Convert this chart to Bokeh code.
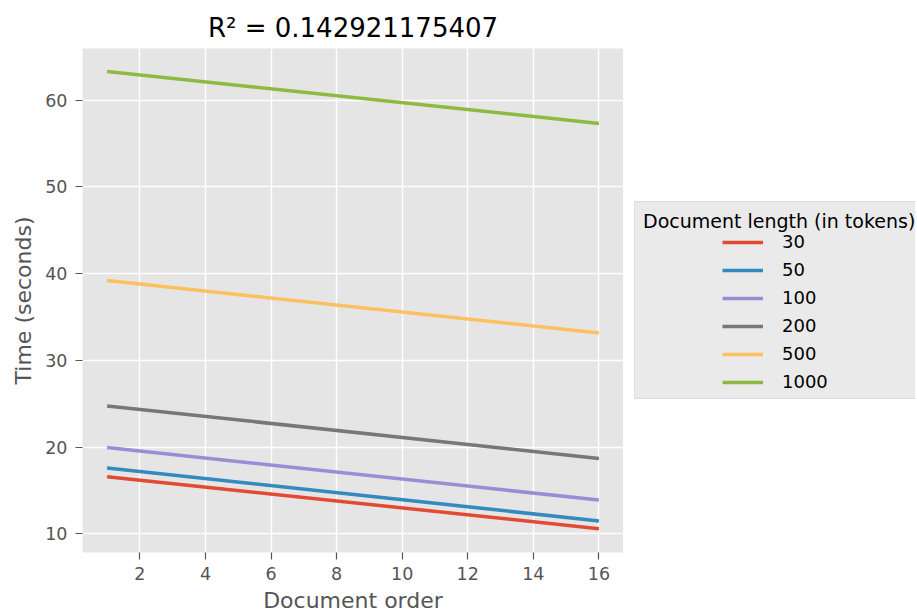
from bokeh.plotting import figure
from bokeh.layouts import row
from bokeh.models import Legend, LegendItem, FixedTicker, Range1d
from bokeh.embed import file_html
from bokeh.resources import INLINE

# Data (regression lines: value at first and last document)
doc_order = [1, 16]
lengths = ["30", "50", "100", "200", "500", "1000"]
start_vals = [16.6, 17.6, 19.95, 24.75, 39.2, 63.3]
end_vals = [10.6, 11.5, 13.9, 18.7, 33.15, 57.3]
colors = ["#E24A33", "#348ABD", "#988ED5", "#777777", "#FBC15E", "#8EBA42"]
x_ticks = [2, 4, 6, 8, 10, 12, 14, 16]
y_ticks = [10, 20, 30, 40, 50, 60]
title_text = "R² = 0.142921175407"
legend_title = "Document length (in tokens)"

FONT = "DejaVu Sans"
H = 607

p = figure(
    frame_width=541, frame_height=504,
    min_border_left=82, min_border_right=0, min_border_top=48, min_border_bottom=55,
    x_range=Range1d(0.25, 16.75), y_range=Range1d(7.86, 65.94),
    output_backend="svg", toolbar_location=None,
    title=title_text,
)
p.background_fill_color = "#E5E5E5"
p.border_fill_color = "white"
p.outline_line_color = None

p.title.align = "center"
p.title.text_font = FONT
p.title.text_font_size = "26px"
p.title.text_font_style = "normal"
p.title.text_color = "black"
p.title.offset = 0
p.title.standoff = 11

for g in (p.xgrid, p.ygrid):
    g.grid_line_color = "white"
    g.grid_line_width = 1.4

p.xaxis.ticker = FixedTicker(ticks=x_ticks)
p.yaxis.ticker = FixedTicker(ticks=y_ticks)
p.xaxis.axis_label = "Document order"
p.yaxis.axis_label = "Time (seconds)"
for ax in (p.xaxis[0], p.yaxis[0]):
    ax.axis_line_color = None
    ax.major_tick_line_color = "#555555"
    ax.major_tick_line_width = 1.2
    ax.major_tick_out = 7
    ax.major_tick_in = 0
    ax.minor_tick_line_color = None
    ax.major_label_text_font = FONT
    ax.major_label_text_font_size = "17.5px"
    ax.major_label_text_color = "#555555"
    ax.axis_label_text_font = FONT
    ax.axis_label_text_font_size = "22px"
    ax.axis_label_text_font_style = "normal"
    ax.axis_label_text_color = "#555555"
p.xaxis.major_label_standoff = 7
p.yaxis.major_label_standoff = 8
p.xaxis.axis_label_standoff = 5
p.yaxis.axis_label_standoff = 6

for s, e, c in zip(start_vals, end_vals, colors):
    p.line(x=doc_order, y=[s, e], line_color=c, line_width=3.5)

# Legend panel: a second, axis-less figure to the right of the plot
p2 = figure(
    width=292, height=H, min_border=0,
    x_range=Range1d(100, 101), y_range=Range1d(100, 101),
    x_axis_type=None, y_axis_type=None,
    output_backend="svg", toolbar_location=None,
)
p2.outline_line_color = None
p2.background_fill_color = "white"
p2.border_fill_color = "white"
p2.xgrid.visible = False
p2.ygrid.visible = False

key_renderers = []
for s, e, c in zip(start_vals, end_vals, colors):
    key_renderers.append(p2.line(x=doc_order, y=[s, e], line_color=c, line_width=3.5))
ghost = p2.line(x=doc_order, y=start_vals[:2], line_alpha=0)

box = Legend(
    items=[LegendItem(label=" ", renderers=[ghost]) for _ in lengths],
    location=(11, 145),
    title=legend_title,
    title_text_font=FONT, title_text_font_size="19px", title_text_font_style="normal",
    title_text_color="black", title_standoff=3,
    label_text_font=FONT, label_text_font_size="18px", label_height=20,
    glyph_height=20, glyph_width=41,
    spacing=7, padding=8, margin=0,
    background_fill_color="#EAEAEA", background_fill_alpha=1.0,
    border_line_color="#D2D2D2", border_line_width=1.2,
    label_width=320,
)
p2.add_layout(box)

leg = Legend(
    items=[LegendItem(label=lab, renderers=[r]) for lab, r in zip(lengths, key_renderers)],
    location=(99, 152),
    label_text_font=FONT, label_text_font_size="18px", label_text_color="black",
    label_height=20, glyph_height=20, glyph_width=41, label_standoff=19,
    spacing=7, padding=0, margin=0,
    background_fill_alpha=0, border_line_color=None,
)
p2.add_layout(leg)

layout = row(p, p2, spacing=0)
open("out.html", "w").write(file_html(layout, INLINE))
